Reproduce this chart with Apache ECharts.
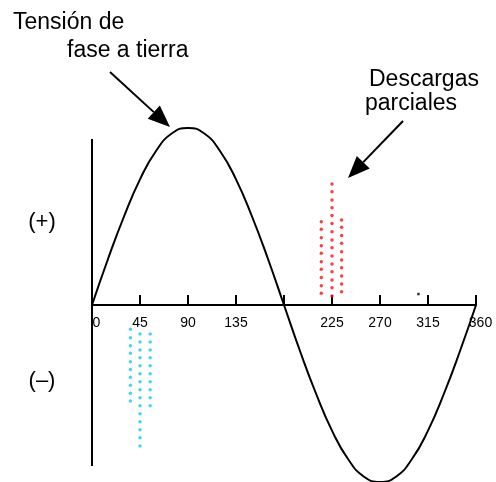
<!DOCTYPE html>
<html>
<head>
<meta charset="utf-8">
<script src="https://cdn.jsdelivr.net/npm/echarts@6/dist/echarts.min.js"></script>
<style>
  html, body { margin: 0; padding: 0; background: #fff; }
  #chart { width: 496px; height: 482px; }
</style>
</head>
<body>
<div id="chart"></div>
<script>
// ---- data ----
const xTicks = [0, 45, 90, 135, 180, 225, 270, 315, 360];
const tickLabels = ['0', '45', '90', '135', '', '225', '270', '315', '360'];

// phase-to-ground voltage, sampled every 15 degrees
const waveAngles = [0, 15, 30, 45, 60, 75, 90, 105, 120, 135, 150, 165, 180,
                    195, 210, 225, 240, 255, 270, 285, 300, 315, 330, 345, 360];
const waveValues = [0, 0.26, 0.5, 0.71, 0.87, 0.97, 1, 0.97, 0.87, 0.71, 0.5, 0.26, 0,
                    -0.26, -0.5, -0.71, -0.87, -0.97, -1, -0.97, -0.87, -0.71, -0.5, -0.26, 0];

// vertical axis line (angle 0), top and bottom ends
const yAxisLineEnds = [0.938, -0.91];

// positive partial discharges (red), three columns
const redColX = [215, 225, 234];
const redCol1 = [0.471, 0.428, 0.380, 0.335, 0.292, 0.245, 0.202, 0.156, 0.109, 0.066];
const redCol2 = [0.684, 0.640, 0.593, 0.550, 0.505, 0.461, 0.414, 0.367, 0.324, 0.277,
                 0.232, 0.188, 0.141, 0.098, 0.051];
const redCol3 = [0.480, 0.439, 0.392, 0.349, 0.301, 0.254, 0.211, 0.164, 0.119, 0.075];

// negative partial discharges (blue), three columns
const blueColX = [36, 45, 54.5];
const blueCol1 = [-0.137, -0.185, -0.230, -0.273, -0.320, -0.365, -0.408, -0.453, -0.499, -0.542];
const blueCol2 = [-0.164, -0.209, -0.254, -0.298, -0.343, -0.388, -0.433, -0.479, -0.524, -0.569,
                  -0.614, -0.659, -0.705, -0.750, -0.797];
const blueCol3 = [-0.164, -0.209, -0.254, -0.298, -0.343, -0.388, -0.433, -0.479, -0.524, -0.569];

// a stray dot near 306 degrees
const strayDot = [[306, 0.062]];

// ---- build ----
function col(x, ys) { return ys.map(y => [x, y]); }
const redPts = [].concat(col(redColX[0], redCol1), col(redColX[1], redCol2), col(redColX[2], redCol3));
const bluePts = [].concat(col(blueColX[0], blueCol1), col(blueColX[1], blueCol2), col(blueColX[2], blueCol3));
const wave = waveAngles.map((a, i) => [a, waveValues[i]]);

const FONT = '"Liberation Sans", Arial, Helvetica, sans-serif';

function arrow(x1, y1, x2, y2, headLen, headHalf) {
  const dx = x2 - x1, dy = y2 - y1, L = Math.hypot(dx, dy);
  const ux = dx / L, uy = dy / L;
  const bx = x2 - ux * headLen, by = y2 - uy * headLen;
  return [
    { type: 'line', shape: { x1: x1, y1: y1, x2: bx, y2: by },
      style: { stroke: '#000', lineWidth: 2 } },
    { type: 'polygon', shape: { points: [[x2, y2], [bx - uy * headHalf, by + ux * headHalf], [bx + uy * headHalf, by - ux * headHalf]] },
      style: { fill: '#000' } }
  ];
}

const chart = echarts.init(document.getElementById('chart'), null, { renderer: 'canvas' });
chart.setOption({
  animation: false,
  backgroundColor: '#fff',
  // grid spans from the positive peak down to the zero line; negative half drawn unclipped below
  grid: { left: 92, right: 20, top: 128, bottom: 177, containLabel: false, outerBoundsMode: 'none' },
  xAxis: {
    type: 'value', min: 0, max: 360, interval: 45,
    axisLine: { onZero: false, lineStyle: { color: '#000', width: 2 } },
    axisTick: { show: true, inside: true, length: 10, lineStyle: { color: '#000', width: 2 } },
    axisLabel: {
      color: '#000', fontSize: 14, fontFamily: FONT, margin: 11,
      formatter: v => {
        const i = xTicks.indexOf(v);
        if (i < 0) return '';
        const t = tickLabels[i];
        return (v === 0 || v === 360) ? '{s|' + t + '}' : t;
      },
      rich: { s: { fontSize: 14, fontFamily: FONT, color: '#000', padding: [0, 0, 0, 9] } }
    },
    splitLine: { show: false }
  },
  yAxis: {
    type: 'value', min: 0, max: 1,
    axisLine: { show: false }, axisTick: { show: false },
    axisLabel: { show: false }, splitLine: { show: false }
  },
  series: [
    {
      type: 'line', data: wave, smooth: true, showSymbol: false, clip: false,
      lineStyle: { color: '#000', width: 2 }
    },
    {
      type: 'line', data: [[0, yAxisLineEnds[0]], [0, yAxisLineEnds[1]]],
      showSymbol: false, clip: false, lineStyle: { color: '#000', width: 2 }
    },
    {
      type: 'scatter', data: redPts, symbolSize: 3.5, clip: false,
      itemStyle: { color: '#ff1010' }
    },
    {
      type: 'scatter', data: bluePts, symbolSize: 3.5, clip: false,
      itemStyle: { color: '#1ec8f0' }
    },
    {
      type: 'scatter', data: strayDot, symbol: 'rect', symbolSize: 2.5, clip: false,
      itemStyle: { color: '#000' }
    }
  ],
  graphic: [
    { type: 'text', left: 13, top: 11, style: { text: 'Tensión de', font: '23px ' + FONT, fill: '#000' } },
    { type: 'text', left: 67, top: 39, style: { text: 'fase a tierra', font: '23px ' + FONT, fill: '#000' } },
    { type: 'text', left: 369, top: 68, style: { text: 'Descargas', font: '23px ' + FONT, fill: '#000' } },
    { type: 'text', left: 365, top: 92, style: { text: 'parciales', font: '23px ' + FONT, fill: '#000' } },
    { type: 'text', x: 42, y: 222, style: { text: '(+)', font: '22px ' + FONT, fill: '#000', align: 'center', verticalAlign: 'middle' } },
    { type: 'text', x: 42, y: 381, style: { text: '(–)', font: '22px ' + FONT, fill: '#000', align: 'center', verticalAlign: 'middle' } }
  ].concat(arrow(110, 72, 170, 127, 22, 9), arrow(403, 121, 348, 178, 22, 9))
});
</script>
</body>
</html>
